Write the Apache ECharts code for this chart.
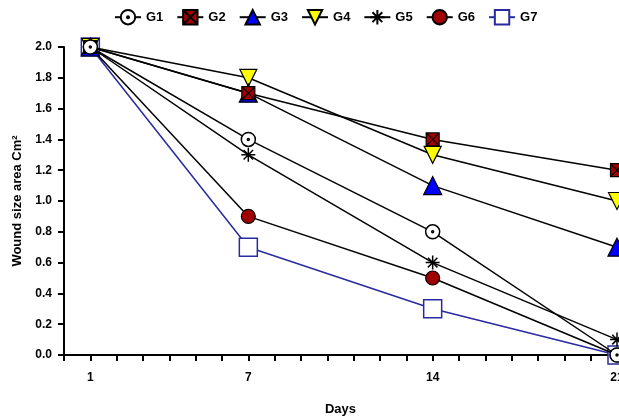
<!DOCTYPE html>
<html><head><meta charset="utf-8">
<script src="https://cdn.jsdelivr.net/npm/echarts/dist/echarts.min.js"></script>
<style>html,body{margin:0;padding:0;background:#fff}#c{width:619px;height:418px}</style>
</head><body><div id="c"></div>
<script>
// ---- data ----
const days = [1, 7, 14, 21];
const xTickLabels = [1, 7, 14, 21];
const yTicks = [0, 0.2, 0.4, 0.6, 0.8, 1.0, 1.2, 1.4, 1.6, 1.8, 2.0];
const seriesNames = ['G1', 'G2', 'G3', 'G4', 'G5', 'G6', 'G7'];
const g1 = [2.0, 1.4, 0.8, 0.0];
const g2 = [2.0, 1.7, 1.4, 1.2];
const g3 = [2.0, 1.7, 1.1, 0.7];
const g4 = [2.0, 1.8, 1.3, 1.0];
const g5 = [2.0, 1.3, 0.6, 0.1];
const g6 = [2.0, 0.9, 0.5, 0.0];
const g7 = [2.0, 0.7, 0.3, 0.0];
const values = [g1, g2, g3, g4, g5, g6, g7];

// ---- styles ----
const FONT = '"Liberation Sans", Arial, sans-serif';
const P_DOTCIRCLE = 'path://M10 0 A10 10 0 1 1 9.99 0 Z M10 8.6 A1.4 1.4 0 1 1 9.99 8.6 Z';
const P_XSQUARE = 'path://M0 0 L10 0 L10 10 L0 10 Z M0 0 L10 10 M10 0 L0 10';
const P_DOWNTRI = 'path://M0 0 L10 0 L5 9.4 Z';
const P_STAR = 'path://M5 0 L5 10 M0 5 L10 5 M1.6 1.6 L8.4 8.4 M8.4 1.6 L1.6 8.4';
const styles = [
  {symbol: P_DOTCIRCLE, size: 14, fill: '#ffffff', border: '#000000', bw: 1.5, line: '#000000'},
  {symbol: P_XSQUARE, size: 13, fill: '#a00000', border: '#000000', bw: 1.2, line: '#000000'},
  {symbol: 'triangle', size: 18, fill: '#0000ff', border: '#000000', bw: 1.2, line: '#000000'},
  {symbol: P_DOWNTRI, size: 17, fill: '#ffff00', border: '#000000', bw: 1.2, line: '#000000'},
  {symbol: P_STAR, size: 14, fill: '#000000', border: '#000000', bw: 1.5, line: '#000000'},
  {symbol: 'circle', size: 14, fill: '#a00000', border: '#000000', bw: 1.2, line: '#000000'},
  {symbol: 'rect', size: 18, fill: '#ffffff', border: '#2a2aa0', bw: 1.5, line: '#2a2aa0'}
];

const series = seriesNames.map((name, i) => ({
  name: name,
  type: 'line',
  data: days.map((d, j) => [d, values[i][j]]),
  symbol: styles[i].symbol,
  symbolSize: styles[i].size,
  showAllSymbol: true,
  clip: false,
  z: 20 - i,
  lineStyle: {color: styles[i].line, width: 1.5},
  itemStyle: {color: styles[i].fill, borderColor: styles[i].border, borderWidth: styles[i].bw, opacity: 1},
  emphasis: {disabled: true},
  animation: false
}));

const chart = echarts.init(document.getElementById('c'), null, {renderer: 'canvas'});
chart.setOption({
  backgroundColor: '#ffffff',
  animation: false,
  legend: {
    data: seriesNames,
    left: 109, top: 4,
    itemWidth: 26, itemHeight: 18, itemGap: 13,
    textStyle: {fontFamily: FONT, fontWeight: 'bold', fontSize: 13, color: '#000'},
    selectedMode: false
  },
  grid: {left: 64, right: 2, top: 47, bottom: 63, containLabel: false, outerBoundsMode: 'none'},
  xAxis: {
    type: 'value', min: 0, max: 21, interval: 1,
    name: 'Days', nameLocation: 'middle', nameGap: 48,
    nameTextStyle: {fontFamily: FONT, fontWeight: 'bold', fontSize: 13, color: '#000'},
    axisLine: {show: true, lineStyle: {color: '#000', width: 2}},
    axisTick: {show: true, length: 6, lineStyle: {color: '#000', width: 2}},
    splitLine: {show: false},
    axisLabel: {
      margin: 17, fontFamily: FONT, fontWeight: 'bold', fontSize: 12, color: '#000',
      formatter: v => xTickLabels.includes(v) ? String(v) : ''
    }
  },
  yAxis: {
    type: 'value', min: yTicks[0], max: yTicks[yTicks.length - 1], interval: 0.2,
    name: 'Wound size area Cm²', nameLocation: 'middle', nameGap: 38,
    nameTextStyle: {fontFamily: FONT, fontWeight: 'bold', fontSize: 13, color: '#000'},
    axisLine: {show: true, lineStyle: {color: '#000', width: 2}},
    axisTick: {show: true, length: 6, lineStyle: {color: '#000', width: 2}},
    splitLine: {show: false},
    axisLabel: {
      margin: 12, fontFamily: FONT, fontWeight: 'bold', fontSize: 12, color: '#000',
      formatter: v => v.toFixed(1)
    }
  },
  series: series
});
</script>
</body></html>
